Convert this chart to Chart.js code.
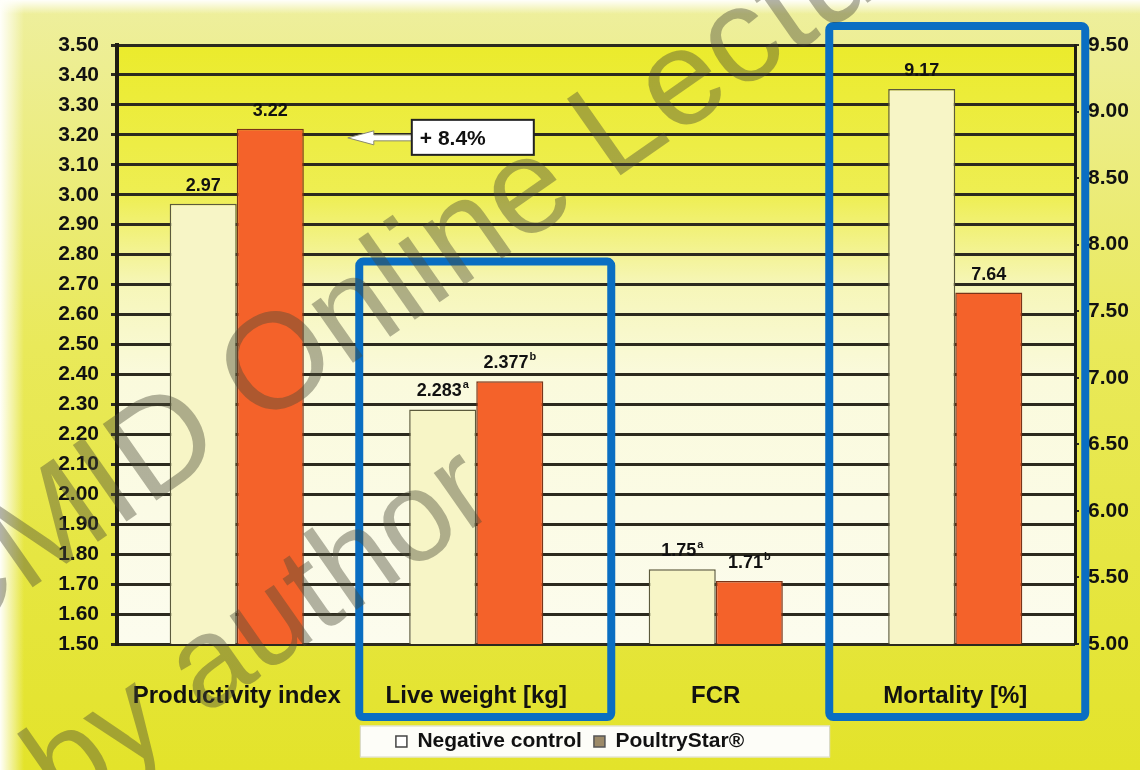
<!DOCTYPE html>
<html>
<head>
<meta charset="utf-8">
<script src="https://cdn.jsdelivr.net/npm/chart.js@4.4.1/dist/chart.umd.min.js"></script>
<style>
  html, body { margin: 0; padding: 0; background: #e8e83a; }
  #wrap { width: 1140px; height: 770px; }
</style>
</head>
<body>
<div id="wrap"><canvas id="chart" width="1140" height="770"></canvas></div>
<script>
// ---- data ----
const categories = ['Productivity index', 'Live weight [kg]', 'FCR', 'Mortality [%]'];
const negativeControl = [2.97, 2.283, 1.75, null];
const poultryStar = [3.22, 2.377, 1.71, null];
const negativeMortality = [null, null, null, 9.17];
const poultryStarMortality = [null, null, null, 7.64];
const negativeMarks = ['', 'a', 'a', ''];
const poultryStarMarks = ['', 'b', 'b', ''];
const leftTicks = [1.5, 1.6, 1.7, 1.8, 1.9, 2.0, 2.1, 2.2, 2.3, 2.4, 2.5, 2.6, 2.7, 2.8, 2.9, 3.0, 3.1, 3.2, 3.3, 3.4, 3.5];
const rightTicks = [5.0, 5.5, 6.0, 6.5, 7.0, 7.5, 8.0, 8.5, 9.0, 9.5];
const improvementText = '+ 8.4%';
const watermarkLines = ['CMID Online Lecture', 'by author'];

const FONT = '"Liberation Sans", Arial, Helvetica, sans-serif';
const NEG_FILL = '#f7f5c6';
const NEG_EDGE = '#5c5a3c';
const PS_FILL = '#f4622a';
const PS_EDGE = '#7a3418';

// page & plot backgrounds
const backgroundPlugin = {
  id: 'backgrounds',
  beforeDraw(chart) {
    const { ctx, width, height, chartArea: a } = chart;
    ctx.save();
    let g = ctx.createLinearGradient(0, 0, 0, height);
    g.addColorStop(0, '#eeef9e');
    g.addColorStop(0.45, '#e9e95a');
    g.addColorStop(1, '#e3e32a');
    ctx.fillStyle = g;
    ctx.fillRect(0, 0, width, height);
    g = ctx.createLinearGradient(0, 0, 24, 0);
    g.addColorStop(0, 'rgba(255,255,250,1)');
    g.addColorStop(1, 'rgba(255,255,250,0)');
    ctx.fillStyle = g;
    ctx.fillRect(0, 0, 24, height);
    g = ctx.createLinearGradient(0, 0, 0, 14);
    g.addColorStop(0, 'rgba(255,255,250,1)');
    g.addColorStop(1, 'rgba(255,255,250,0)');
    ctx.fillStyle = g;
    ctx.fillRect(0, 0, width, 14);

    g = ctx.createLinearGradient(0, a.top, 0, a.bottom);
    g.addColorStop(0, '#ebeb2c');
    g.addColorStop(0.25, '#eeee52');
    g.addColorStop(0.4, '#f6f6b8');
    g.addColorStop(0.55, '#fafadc');
    g.addColorStop(1, '#fcfcee');
    ctx.fillStyle = g;
    ctx.fillRect(a.left, a.top, a.right - a.left, a.bottom - a.top);

    // white legend panel
    const lg = chart.legend;
    if (lg && lg.legendHitBoxes && lg.legendHitBoxes.length) {
      const hb = lg.legendHitBoxes;
      const x0 = hb[0].left - 36;
      const x1 = hb[hb.length - 1].left + hb[hb.length - 1].width + 86;
      const yc = hb[0].top + hb[0].height / 2;
      ctx.fillStyle = '#fdfdf8';
      ctx.strokeStyle = '#d8d8c0';
      ctx.lineWidth = 1;
      ctx.fillRect(x0, yc - 16, x1 - x0, 32);
      ctx.strokeRect(x0 + 0.5, yc - 15.5, x1 - x0 - 1, 31);
    }
    ctx.restore();
  }
};

// value labels above each bar
const valueLabelPlugin = {
  id: 'valueLabels',
  afterDatasetsDraw(chart) {
    const { ctx } = chart;
    ctx.save();
    ctx.fillStyle = '#111';
    ctx.textBaseline = 'alphabetic';
    chart.data.datasets.forEach((ds, di) => {
      const marks = di % 2 === 0 ? negativeMarks : poultryStarMarks;
      chart.getDatasetMeta(di).data.forEach((bar, i) => {
        const v = ds.data[i];
        if (v === null || v === undefined) return;
        const txt = String(v);
        const sup = marks[i];
        ctx.font = 'bold 18px ' + FONT;
        const w = ctx.measureText(txt).width;
        ctx.font = 'bold 11px ' + FONT;
        const ws = sup ? ctx.measureText(sup).width + 1 : 0;
        const x0 = bar.x - (w + ws) / 2;
        const y = bar.y - 13;
        ctx.font = 'bold 18px ' + FONT;
        ctx.textAlign = 'left';
        ctx.fillText(txt, x0, y);
        if (sup) {
          ctx.font = 'bold 11px ' + FONT;
          ctx.fillText(sup, x0 + w + 1, y - 8);
        }
      });
    });

    // "+ 8.4%" call-out next to the PoultryStar productivity bar
    const bar = chart.getDatasetMeta(1).data[0];
    const yScale = chart.scales.y;
    const right = bar.x + bar.width / 2;
    const cy = yScale.getPixelForValue(3.19);
    const tipX = right + 44, headX = right + 70, boxX = right + 108;
    ctx.fillStyle = '#ffffff';
    ctx.strokeStyle = '#8a8a70';
    ctx.lineWidth = 1;
    ctx.beginPath();
    ctx.moveTo(tipX, cy);
    ctx.lineTo(headX, cy - 7);
    ctx.lineTo(headX, cy - 3);
    ctx.lineTo(boxX, cy - 3);
    ctx.lineTo(boxX, cy + 3);
    ctx.lineTo(headX, cy + 3);
    ctx.lineTo(headX, cy + 7);
    ctx.closePath();
    ctx.fill();
    ctx.stroke();
    ctx.fillStyle = '#ffffff';
    ctx.fillRect(boxX, cy - 18, 122, 35);
    ctx.strokeStyle = '#222';
    ctx.lineWidth = 2;
    ctx.strokeRect(boxX, cy - 18, 122, 35);
    ctx.fillStyle = '#111';
    ctx.font = 'bold 21px ' + FONT;
    ctx.textAlign = 'left';
    ctx.textBaseline = 'middle';
    ctx.fillText(improvementText, boxX + 8, cy + 1);
    ctx.restore();
  }
};

// blue highlight frames and the diagonal watermark
const overlayPlugin = {
  id: 'overlays',
  afterDraw(chart) {
    const { ctx, chartArea: a } = chart;
    const x = chart.scales.x, y = chart.scales.y;
    const frames = [
      { index: 1, left: -117, right: 135, top: y.getPixelForValue(2.777), bottom: a.bottom + 73 },
      { index: 3, left: -126, right: 130, top: a.top - 19, bottom: a.bottom + 73 }
    ];
    ctx.save();
    ctx.strokeStyle = '#0a6ec2';
    ctx.lineWidth = 8;
    ctx.lineJoin = 'round';
    frames.forEach(f => {
      const c = x.getPixelForValue(f.index);
      ctx.beginPath();
      ctx.roundRect(c + f.left, f.top, f.right - f.left, f.bottom - f.top, 4);
      ctx.stroke();
    });
    ctx.restore();

    ctx.save();
    ctx.translate(-57, 650);
    ctx.rotate(-35 * Math.PI / 180);
    ctx.fillStyle = 'rgba(75,75,55,0.42)';
    ctx.textAlign = 'left';
    ctx.textBaseline = 'alphabetic';
    ctx.font = '136px ' + FONT;
    ctx.fillText(watermarkLines[0], 0, 0);
    ctx.font = '128px ' + FONT;
    ctx.fillText(watermarkLines[1], 4, 204);
    ctx.restore();
  }
};

const tickFont = { family: FONT, size: 21, weight: 'bold' };

new Chart(document.getElementById('chart'), {
  type: 'bar',
  data: {
    labels: categories,
    datasets: [
      { label: 'Negative control', data: negativeControl, yAxisID: 'y', backgroundColor: NEG_FILL, borderColor: NEG_EDGE, borderWidth: 1.5 },
      { label: 'PoultryStar®', data: poultryStar, yAxisID: 'y', backgroundColor: PS_FILL, borderColor: PS_EDGE, borderWidth: 1.5 },
      { label: 'Negative control', data: negativeMortality, yAxisID: 'y2', backgroundColor: NEG_FILL, borderColor: NEG_EDGE, borderWidth: 1.5 },
      { label: 'PoultryStar®', data: poultryStarMortality, yAxisID: 'y2', backgroundColor: PS_FILL, borderColor: PS_EDGE, borderWidth: 1.5 }
    ]
  },
  options: {
    responsive: false,
    animation: false,
    devicePixelRatio: 1,
    layout: { padding: { top: 45, left: 0, right: 0, bottom: 8 } },
    datasets: { bar: { skipNull: true, categoryPercentage: 0.56, barPercentage: 1.0 } },
    scales: {
      x: {
        grid: { display: false },
        border: { display: false },
        ticks: { font: { family: FONT, size: 24, weight: 'bold' }, color: '#111', padding: 30, maxRotation: 0, autoSkip: false },
        afterFit: s => { s.height = 75; }
      },
      y: {
        position: 'left',
        min: 1.5, max: 3.5,
        afterBuildTicks: s => { s.ticks = leftTicks.map(v => ({ value: v })); },
        ticks: { font: tickFont, color: '#111', padding: 12, autoSkip: false, callback: v => Number(v).toFixed(2) },
        grid: { color: '#2c2a1e', lineWidth: 3, tickLength: 6, tickColor: '#2c2a1e' },
        border: { display: true, color: '#1e1c12', width: 4 },
        afterFit: s => { s.width = 117; }
      },
      y2: {
        position: 'right',
        min: 5, max: 9.5,
        afterBuildTicks: s => { s.ticks = rightTicks.map(v => ({ value: v })); },
        ticks: { font: tickFont, color: '#111', padding: 9, autoSkip: false, callback: v => Number(v).toFixed(2) },
        grid: { drawOnChartArea: false, color: '#2c2a1e', lineWidth: 2, tickLength: 4 },
        border: { display: true, color: '#1e1c12', width: 3 },
        afterFit: s => { s.width = 65; }
      }
    },
    plugins: {
      tooltip: { enabled: false },
      legend: {
        position: 'bottom',
        labels: {
          font: { family: FONT, size: 21, weight: 'bold' },
          color: '#111',
          boxWidth: 11, boxHeight: 11,
          padding: 12,
          filter: item => item.datasetIndex < 2,
          generateLabels: chart => Chart.defaults.plugins.legend.labels.generateLabels(chart).map(item => {
            if (item.datasetIndex === 0) { item.fillStyle = '#ffffff'; item.strokeStyle = '#444'; }
            else { item.fillStyle = '#9c8a68'; item.strokeStyle = '#555'; }
            item.lineWidth = 1.5;
            return item;
          })
        }
      }
    }
  },
  plugins: [backgroundPlugin, valueLabelPlugin, overlayPlugin]
});
</script>
</body>
</html>
